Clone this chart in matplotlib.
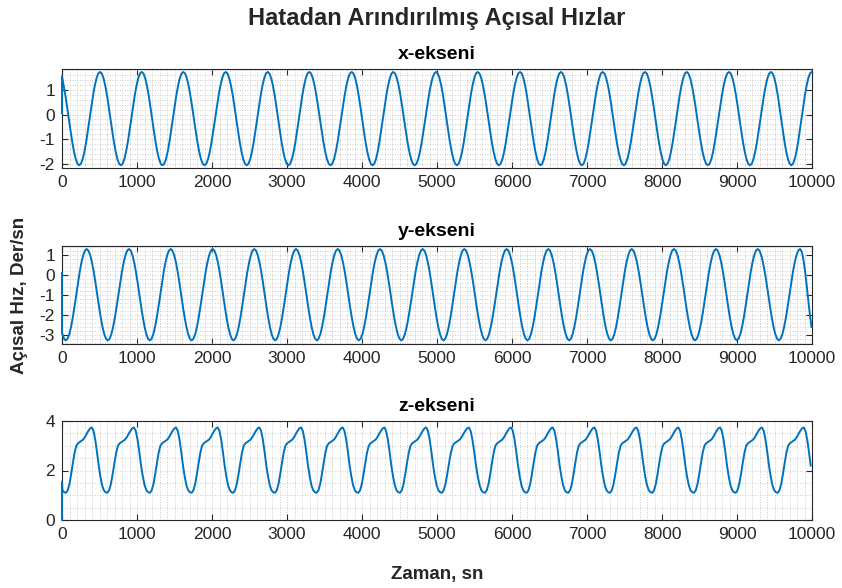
import numpy as np
import matplotlib.pyplot as plt
from matplotlib.ticker import MultipleLocator

plt.rcParams['font.family'] = ['Liberation Sans', 'DejaVu Sans']
plt.rcParams['axes.unicode_minus'] = False

# ---- data ----
# times of the cycle reference points (peaks for x and y, troughs for z)
x_anchor_t = [-48, 507, 1063, 1617, 2183, 2743, 3297, 3863, 4417, 4987, 5543,
              6107, 6653, 7209, 7773, 8329, 8893, 9453, 9996, 10551]
y_anchor_t = [-227, 329, 893, 1449, 2009, 2564, 3120, 3676, 4240, 4809, 5364,
              5929, 6484, 7040, 7596, 8160, 8720, 9276, 9840, 10250]
z_anchor_t = [-502, 53, 604, 1173, 1729, 2284, 2840, 3396, 3951, 4507, 5065,
              5640, 6196, 6751, 7307, 7871, 8427, 8983, 9543, 10098]

# one cycle of each signal (24 samples between successive anchors)
x_cycle_v = [1.72, 1.66, 1.47, 1.17, 0.78, 0.32, -0.17, -0.65, -1.11, -1.50, -1.80, -1.99,
             -2.05, -1.99, -1.80, -1.50, -1.11, -0.65, -0.17, 0.32, 0.78, 1.17, 1.47, 1.66]
y_cycle_v = [1.30, 1.22, 0.99, 0.63, 0.16, -0.39, -0.99, -1.58, -2.13, -2.60, -2.96, -3.19,
             -3.27, -3.19, -2.96, -2.60, -2.13, -1.58, -0.99, -0.39, 0.16, 0.63, 0.99, 1.22]
z_cycle_v = [1.10, 1.20, 1.45, 1.85, 2.30, 2.72, 3.00, 3.10, 3.15, 3.20, 3.25, 3.35,
             3.48, 3.60, 3.70, 3.74, 3.60, 3.25, 2.75, 2.20, 1.75, 1.40, 1.20, 1.12]

# first samples at t = 0 (start-up spike)
x_start_v = [0.05, 1.55]
y_start_v = [0.10, -2.90]
z_start_v = [0.00, 1.55]

titles = ['x-ekseni', 'y-ekseni', 'z-ekseni']
ylims = [(-2.16, 1.84), (-3.45, 1.45), (0, 4)]
yticks = [[-2, -1, 0, 1], [-3, -2, -1, 0, 1], [0, 2, 4]]
yminor = [0.2, 0.2, 0.5]
xticks = list(range(0, 10001, 1000))


def build(anchors, cycle, start):
    n = len(cycle)
    t, v = [0, 0], list(start)
    for a, b in zip(anchors[:-1], anchors[1:]):
        for k in range(n):
            tk = a + (b - a) * k / n
            if 0 < tk <= 10000:
                t.append(tk)
                v.append(cycle[k])
    return t, v


series = [build(x_anchor_t, x_cycle_v, x_start_v),
          build(y_anchor_t, y_cycle_v, y_start_v),
          build(z_anchor_t, z_cycle_v, z_start_v)]

W, H = 842, 588
fig = plt.figure(figsize=(W / 100, H / 100), dpi=100)
left, right = 62, 812
boxes = [(69, 168), (246, 344), (421, 520)]
dark = '#262626'

for i, ((top, bot), (t, v)) in enumerate(zip(boxes, series)):
    ax = fig.add_axes([left / W, 1 - bot / H, (right - left) / W, (bot - top) / H])
    ax.plot(t, v, color='#0072BD', lw=1.4, clip_on=False, zorder=3)
    ax.set_xlim(0, 10000)
    ax.set_ylim(*ylims[i])
    ax.set_xticks(xticks)
    ax.set_yticks(yticks[i])
    ax.xaxis.set_minor_locator(MultipleLocator(100))
    ax.yaxis.set_minor_locator(MultipleLocator(yminor[i]))
    ax.grid(which='both', linestyle=(0, (1, 2)), color='#bdbdbd', lw=0.6)
    ax.tick_params(which='major', direction='in', length=4, width=0.8,
                   top=True, right=True, labelsize=12.5, colors=dark, pad=5)
    ax.tick_params(which='minor', length=0)
    for s in ax.spines.values():
        s.set_color(dark)
        s.set_linewidth(0.8)
    ax.set_axisbelow(True)
    ax.set_title(titles[i], fontsize=14, fontweight='bold', color='black', pad=7)

fig.text(0.5 * (left + right) / W, 1 - 18 / H, 'Hatadan Arındırılmış Açısal Hızlar',
         ha='center', va='center', fontsize=17, fontweight='bold', color=dark)
fig.text(437 / W, 1 - 575 / H, 'Zaman, sn', ha='center', va='center',
         fontsize=13.5, fontweight='bold', color=dark)
fig.text(20 / W, 1 - 295 / H, 'Açısal Hız, Der/sn', ha='center', va='center',
         rotation=90, fontsize=13.5, fontweight='bold', color=dark)

fig.savefig('out.png', dpi=100, facecolor='white')
